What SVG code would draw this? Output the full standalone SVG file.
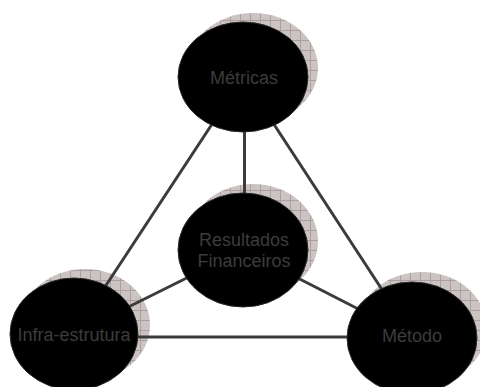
<svg xmlns="http://www.w3.org/2000/svg" width="480" height="387" viewBox="0 0 480 387">
<defs>
<pattern id="grid" patternUnits="userSpaceOnUse" width="10" height="10">
<rect width="10" height="10" fill="#ccc3c3"/>
<path d="M0 0.5H10M0.5 0V10" stroke="#ab9f9f" stroke-width="1"/>
</pattern>
</defs>
<style>
.shadow{fill:url(#grid)}
.node{fill:#000;stroke:#2a2a2a;stroke-width:1}
.conn{stroke:#3b3b3b;stroke-width:3;fill:none}
.lbl{font-family:"Liberation Sans",Arial,sans-serif;font-size:18px;fill:#3c3c3c;text-anchor:middle}
</style>
<rect width="480" height="387" fill="#fff"/>
<g id="shadows">
<ellipse class="shadow" cx="253" cy="68" rx="65" ry="55"/>
<ellipse class="shadow" cx="253" cy="241" rx="65" ry="57"/>
<ellipse class="shadow" cx="85" cy="325" rx="65" ry="56"/>
<ellipse class="shadow" cx="422" cy="328" rx="65" ry="56"/>
</g>
<g id="connectors">
<line class="conn" x1="243" y1="77" x2="74" y2="334"/>
<line class="conn" x1="243" y1="77" x2="413" y2="337"/>
<line class="conn" x1="244.5" y1="77" x2="244.5" y2="250"/>
<line class="conn" x1="243" y1="250" x2="74" y2="334"/>
<line class="conn" x1="243" y1="250" x2="413" y2="337"/>
<line class="conn" x1="74" y1="337" x2="413" y2="337"/>
</g>
<g id="metricas">
<ellipse class="node" cx="243" cy="77" rx="65" ry="55"/>
<text class="lbl" x="244" y="84">Métricas</text>
</g>
<g id="resultados">
<ellipse class="node" cx="243" cy="250" rx="65" ry="57"/>
<text class="lbl" x="244" y="246">Resultados</text>
<text class="lbl" x="244" y="267">Financeiros</text>
</g>
<g id="infra">
<ellipse class="node" cx="74" cy="334" rx="64" ry="56"/>
<text class="lbl" x="74" y="341">Infra-estrutura</text>
</g>
<g id="metodo">
<ellipse class="node" cx="412" cy="338" rx="65" ry="56"/>
<text class="lbl" x="412" y="342">Método</text>
</g>
</svg>
